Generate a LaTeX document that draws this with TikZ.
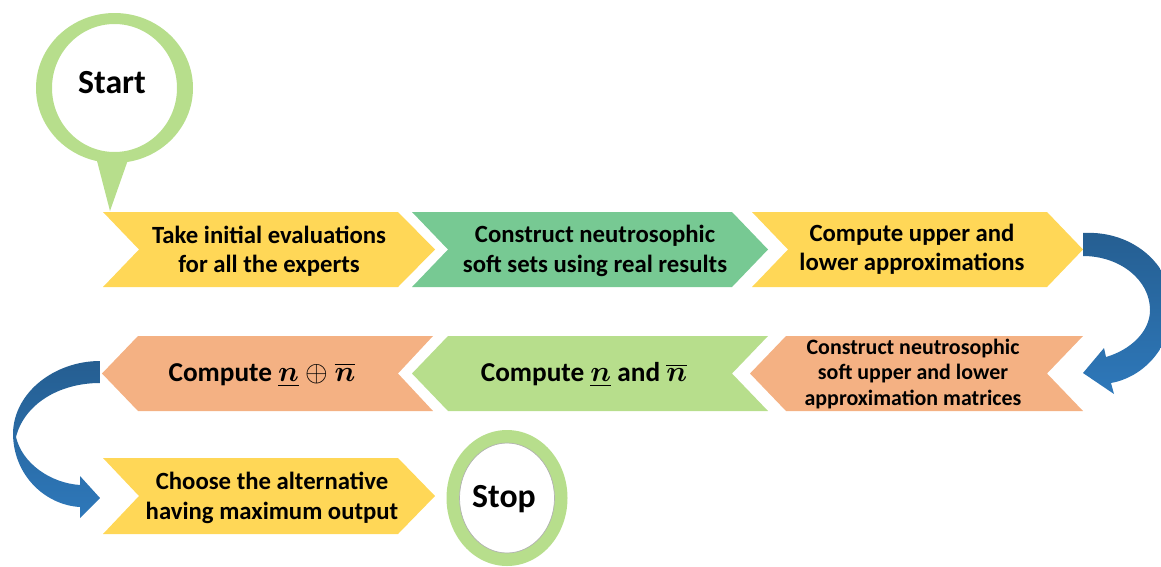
\documentclass[tikz,border=0pt]{standalone}
\usepackage{amsmath}
\usepackage{amssymb}
\usepackage{fontspec}
\setmainfont{Carlito}
\usepackage{tikz}
\usetikzlibrary{calc}
\definecolor{yelFill}{HTML}{FFD757}
\definecolor{grnFill}{HTML}{77C993}
\definecolor{limeFill}{HTML}{B7DE8C}
\definecolor{oraFill}{HTML}{F4B183}
\definecolor{bluDark}{HTML}{255E91}
\definecolor{bluLight}{HTML}{2E78BA}

\begin{document}
\begin{tikzpicture}[x=0.025cm,y=-0.025cm,
  txt/.style={align=center,inner sep=0pt,font=\bfseries\fontsize{17.6}{20.8}\selectfont},
  bigtxt/.style={align=center,inner sep=0pt,font=\bfseries\fontsize{19.4}{23}\selectfont},
  smalltxt/.style={align=center,inner sep=0pt,font=\bfseries\fontsize{15.6}{18}\selectfont},
  endtxt/.style={inner sep=0pt,font=\bfseries\fontsize{#1}{#1}\selectfont},
  ring/.style={fill=limeFill,even odd rule},
  bluarrow/.style={top color=bluDark,bottom color=bluLight}]
\useasboundingbox (0,0) rectangle (1161,566);
\clip (0,0) rectangle (1161,566);
\fill[ring] (114.5,88) ellipse [x radius=78.5,y radius=75] (114.5,88) ellipse [x radius=62.5,y radius=64];
\fill[limeFill] (96,157) -- (129,157) -- (110,211) -- cycle;
\node[endtxt=24] (start) at (112,83) {Start};
\fill[yelFill] (103,212) -- (398,212) -- (435,249.5) -- (398,287) -- (103,287) -- (139,249.5) -- cycle;
\fill[grnFill] (412,212) -- (732,212) -- (768,249.5) -- (732,287) -- (412,287) -- (448,249.5) -- cycle;
\fill[yelFill] (752,212) -- (1047,212) -- (1083,249.5) -- (1047,287) -- (752,287) -- (788,249.5) -- cycle;
\node[txt] (take) at (269,251) {Take initial evaluations\\for all the experts};
\node[txt] (soft) at (595,251) {Construct neutrosophic\\soft sets using real results};
\node[txt] (approx) at (912,249) {Compute upper and\\lower approximations};
\fill[oraFill] (750,373.5) -- (786,336) -- (1083,336) -- (1047,373.5) -- (1083,411) -- (786,411) -- cycle;
\fill[limeFill] (412,373.5) -- (448,336) -- (768,336) -- (732,373.5) -- (768,411) -- (448,411) -- cycle;
\fill[oraFill] (102,373.5) -- (138,336) -- (433,336) -- (398,373.5) -- (433,411) -- (138,411) -- cycle;
\node[smalltxt] (matrices) at (913,374) {Construct neutrosophic\\soft upper and lower\\approximation matrices};
\node[bigtxt] (nbar) at (584,375) {Compute $\underline{\boldsymbol{n}}$ and $\overline{\boldsymbol{n}}$};
\node[bigtxt] (oplus) at (262,375) {Compute $\underline{\boldsymbol{n}}\oplus\overline{\boldsymbol{n}}$};
\fill[yelFill] (103,458) -- (398,458) -- (435,496) -- (398,534) -- (103,534) -- (139,496) -- cycle;
\node[txt] (choose) at (272,498) {Choose the alternative\\having maximum output};
\fill[ring] (507,498) ellipse [x radius=60.5,y radius=68] (507,498) ellipse [x radius=47.5,y radius=55];
\draw[black!30,line width=0.5pt] (507,498) ellipse [x radius=47.5,y radius=55];
\node[endtxt=24] (stop) at (504,499) {Stop};
\shade[bluarrow] (1083,233) .. controls (1135,230) and (1175,268) .. (1172,312) .. controls (1169,352) and (1140,378) .. (1111,383) -- (1114,394) -- (1083,373) -- (1104,348) -- (1106,357) .. controls (1130,350) and (1150,332) .. (1150,310) .. controls (1150,280) and (1120,256) .. (1083,256) -- cycle;
\shade[bluarrow] (100,361) .. controls (55,361) and (14,392) .. (13,433) .. controls (13,475) and (45,505) .. (80,507) -- (80,518) -- (100,498) -- (80,476) -- (80,485) .. controls (50,483) and (22,463) .. (16,437) .. controls (24,405) and (58,383) .. (100,383) -- cycle;
\end{tikzpicture}
\end{document}
